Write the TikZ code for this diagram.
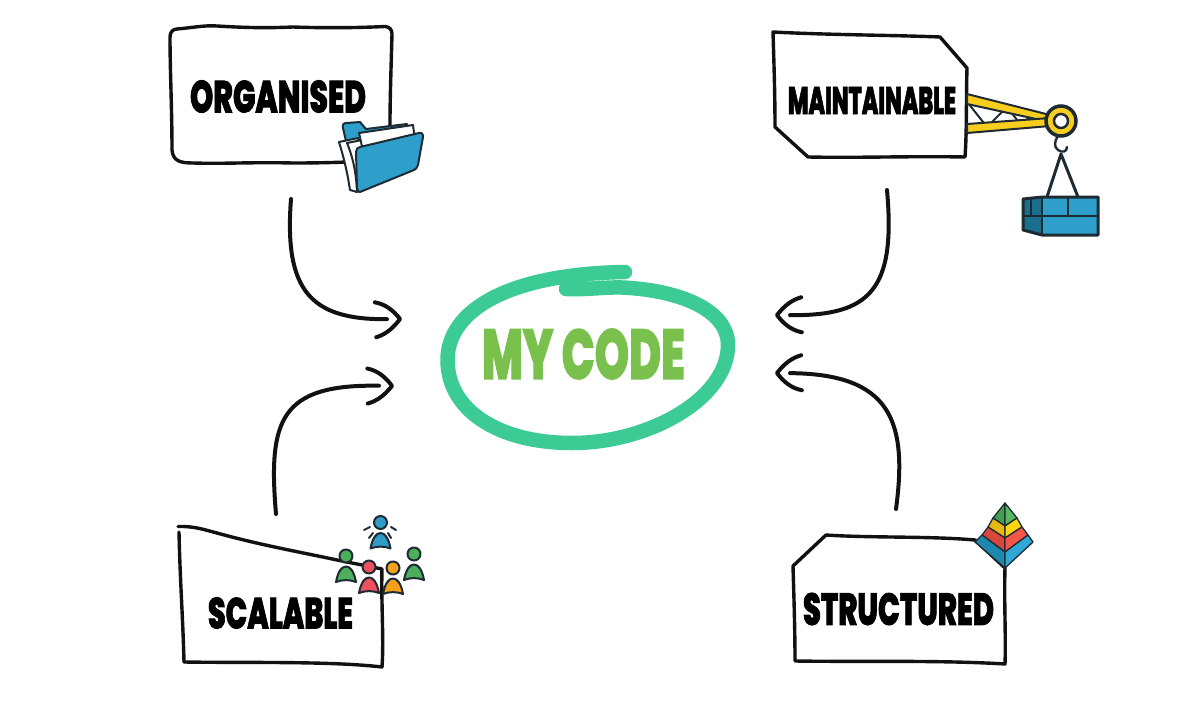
\documentclass[tikz,border=0pt]{standalone}
\usepackage{fontspec}
\usepackage{graphicx}
\usetikzlibrary{arrows.meta,calc}
\newfontfamily\handfont[FakeBold=2.2]{Poppins ExtraBold}
\definecolor{ink}{HTML}{111111}
\definecolor{icon}{HTML}{1E2B33}
\definecolor{ringgreen}{HTML}{3CCB94}
\definecolor{codegreen}{HTML}{79C14C}
\definecolor{bluef}{HTML}{2E9FCB}
\definecolor{bluedark}{HTML}{1A6F8C}
\definecolor{yellowf}{HTML}{F7CE1E}
\definecolor{personblue}{HTML}{2F9CC6}
\definecolor{persongreen}{HTML}{4CAF5B}
\definecolor{personred}{HTML}{EE5060}
\definecolor{personorange}{HTML}{F5A11C}
\definecolor{pyrgreenA}{HTML}{3F9E50}
\definecolor{pyrgreenB}{HTML}{58B860}
\definecolor{pyryellowA}{HTML}{E8B80F}
\definecolor{pyryellowB}{HTML}{FFD410}
\definecolor{pyrredA}{HTML}{D8473E}
\definecolor{pyrredB}{HTML}{F2564B}
\definecolor{pyrblueA}{HTML}{1F88AF}
\definecolor{pyrblueB}{HTML}{2FA8D5}
\newcommand{\handtext}[3]{\resizebox{#1pt}{#2pt}{\handfont #3}}
\newcommand{\personicon}[3]{%
  \draw[iconline,fill=#3] (#1,#2) circle (6.5);
  \draw[iconline,fill=#3] (#1-10,#2+26) .. controls (#1-8,#2+15) and (#1-4,#2+10.5) .. (#1,#2+10.5)
     .. controls (#1+4,#2+10.5) and (#1+8,#2+15) .. (#1+10,#2+26) .. controls (#1+4,#2+23.5) and (#1-4,#2+23.5) .. cycle;
}
\pgfdeclarearrow{
  name=HandBarb,
  setup code={
    \pgfarrowssettipend{2pt}
    \pgfarrowssetlineend{-13pt}
    \pgfarrowssetbackend{-26pt}
    \pgfarrowssetvisualbackend{-13pt}
    \pgfarrowshullpoint{0pt}{0pt}
    \pgfarrowshullpoint{-26pt}{19pt}
    \pgfarrowshullpoint{-26pt}{-19pt}
  },
  drawing code={
    \pgfsetdash{}{0pt}
    \pgfsetroundcap
    \pgfsetroundjoin
    \pgfpathmoveto{\pgfqpoint{-25pt}{17pt}}
    \pgfpathcurveto{\pgfqpoint{-14pt}{15pt}}{\pgfqpoint{-6pt}{8pt}}{\pgfqpoint{0pt}{0pt}}
    \pgfpathcurveto{\pgfqpoint{-7pt}{-9pt}}{\pgfqpoint{-14pt}{-15pt}}{\pgfqpoint{-24pt}{-18pt}}
    \pgfusepathqstroke
  }
}
\tikzset{
  x=1pt,y=-1pt,
  boxline/.style={draw=ink,line width=3.4pt,line join=round,line cap=round},
  iconline/.style={draw=icon,line width=2pt,line join=round,line cap=round},
  thinicon/.style={draw=icon,line width=1.3pt,line join=round},
  flow/.style={draw=ink,line width=4pt,line cap=round,-{HandBarb}},
  word/.style={inner sep=0pt,text=black},
  ringstroke/.style={draw=ringgreen,line width=14.5pt,line cap=round,line join=round},
}
\begin{document}
\begin{tikzpicture}
\useasboundingbox[fill=white] (0,0) rectangle (1192,709);

% boxes
\draw[boxline] (177,29) .. controls (190,28) and (205,25) .. (217,26) .. controls (250,28) and (270,28) .. (293,27)
  .. controls (320,28) and (355,28) .. (385,26.5) .. controls (389,27) and (392,29) .. (392,34)
  .. controls (391,70) and (390,100) .. (390,123) -- (389,160) .. controls (350,162) and (330,163) .. (293,163)
  .. controls (250,162) and (225,164) .. (193,163) .. controls (180,163) and (173,161) .. (172,150)
  .. controls (172,110) and (170,70) .. (170,37) .. controls (170,32) and (173,29) .. (177,29) -- cycle;
\draw[boxline] (773,32) .. controls (830,35) and (890,35) .. (940,37) -- (967,68) .. controls (966,100) and (967,130) .. (965,157)
  .. controls (910,156) and (860,158) .. (808,157) -- (775,127) .. controls (775,95) and (774,65) .. (773,32) -- cycle;
\draw[boxline] (178,526.5) .. controls (195,526) and (205,530) .. (217,533) .. controls (260,545) and (300,552) .. (337,560)
  -- (382,569) .. controls (381,600) and (384,640) .. (382,667) .. controls (330,661) and (250,663) .. (184,662);
\draw[boxline] (179,532) .. controls (180,580) and (183,620) .. (184,662);
\draw[boxline] (793,566) -- (826,535) .. controls (870,538) and (930,536) .. (975,540) -- (1005,568) .. controls (1004,600) and (1006,640) .. (1005,664)
  .. controls (940,660) and (860,662) .. (795,661) .. controls (795,630) and (794,600) .. (793,566) -- cycle;

% labels
\node[word] (organised) at (278,96.5) {\handtext{176}{32}{ORGANISED}};
\node[word] (maintainable) at (872,100.5) {\handtext{168}{27}{MAINTAINABLE}};
\node[word] (scalable) at (280.5,613) {\handtext{145}{31}{SCALABLE}};
\node[word] (structured) at (898.5,609) {\handtext{191}{32}{STRUCTURED}};
\node[word,text=codegreen] (mycode) at (583.5,354) {\handtext{203}{50}{MY CODE}};

% ring
\draw[ringstroke] (566,289) .. controls (590,290) and (610,286) .. (630,288)
  .. controls (685,292) and (728,312) .. (728,345)
  .. controls (728,398) and (650,443) .. (572,443)
  .. controls (498,443) and (447.5,410) .. (447.5,360)
  .. controls (447.5,312) and (505,274) .. (625,272);

% connectors
\coordinate (org-out) at (291,199);
\coordinate (org-in) at (402,319);
\coordinate (main-out) at (887,190);
\coordinate (main-in) at (775,315);
\coordinate (scal-out) at (276,514);
\coordinate (scal-in) at (394,386);
\coordinate (stru-out) at (896,509);
\coordinate (stru-in) at (775,373);
\draw[flow] (org-out) .. controls (284,290) and (310,320) .. (org-in);
\draw[flow] (main-out) .. controls (896,290) and (870,316) .. (main-in);
\draw[flow] (scal-out) .. controls (268,420) and (280,384) .. (scal-in);
\draw[flow] (stru-out) .. controls (908,420) and (890,374) .. (stru-in);

% folder
\draw[iconline,fill=bluef] (343,128) .. controls (342,124) and (344,123) .. (347,123) -- (360,122) -- (366,129) -- (407,124) -- (410,135) -- (360,170) -- (348,150) -- cycle;
\draw[iconline,fill=white] (339,142) -- (358,138) -- (370,185) -- (357,192) -- (350,190) .. controls (347,170) and (343,155) .. (339,142) -- cycle;
\draw[iconline,fill=white] (347,143) -- (362,140) -- (372,185) -- (357,191) .. controls (356,170) and (352,155) .. (347,143) -- cycle;
\draw[iconline,fill=white] (359,133) -- (413,125) -- (415,140) -- (365,160) -- cycle;
\draw[iconline,fill=bluef] (356,152) .. controls (356,149) and (358,147) .. (360,147) -- (419,133) .. controls (422,132) and (423,134) .. (423,137)
  -- (418,165) .. controls (417,168) and (416,169) .. (414,170) -- (360,192) .. controls (358,192) and (358,191) .. (357,188) -- cycle;

% crane
\draw[iconline] (968,103) -- (987,127) -- (1007,107) -- (1021,125) -- (1033,114);
\draw[iconline,fill=yellowf] (967,94) -- (1050,115) -- (1050,122) -- (967,104) -- cycle;
\draw[iconline,fill=yellowf] (967,124) -- (1050,118) -- (1050,126) -- (967,133) -- cycle;
\draw[icon,line width=2.4pt,line cap=round] (1058,136) .. controls (1054,142) and (1054,147) .. (1058,150) .. controls (1062,153) and (1067,152) .. (1067,147);
\draw[icon,line width=3pt,line cap=round,line join=round] (1047,197) -- (1061,154) -- (1078,197);
\draw[draw=icon,line width=3.5pt,fill=yellowf] (1061,121) circle (15);
\draw[draw=icon,line width=2.5pt,fill=white] (1061,121) circle (7);
\fill[bluef] (1023,199) -- (1042,197) -- (1098,197) -- (1098,235) -- (1042,235) -- (1023,230) -- cycle;
\fill[bluedark] (1023,199) -- (1042,197) -- (1042,235) -- (1023,230) -- cycle;
\draw[icon,line width=3pt,line join=round] (1023,199) -- (1042,197) -- (1098,197) -- (1098,235) -- (1042,235) -- (1023,230) -- cycle;
\draw[icon,line width=2.6pt] (1023,216) -- (1098,216) (1042,197) -- (1042,235) (1068,197) -- (1068,216) (1031,199) -- (1031,216);

% people
\draw[iconline] (364,530) -- (370,527) (369,538) -- (373,533) (391,538) -- (388,533) (396,530) -- (391,527);
\personicon{380.5}{522.5}{personblue}
\personicon{346}{556}{persongreen}
\personicon{414}{554}{persongreen}
\personicon{393}{568}{personorange}
\personicon{369}{567}{personred}

% pyramid
\draw[thinicon,fill=pyrgreenA] (1005,503) -- (993,518) -- (1005,526) -- cycle;
\draw[thinicon,fill=pyrgreenB] (1005,503) -- (1017,518) -- (1005,526) -- cycle;
\draw[thinicon,fill=pyryellowA] (993,518) -- (988,527) -- (1005,538) -- (1005,526) -- cycle;
\draw[thinicon,fill=pyryellowB] (1017,518) -- (1022,527) -- (1005,538) -- (1005,526) -- cycle;
\draw[thinicon,fill=pyrredA] (988,527) -- (982,535) -- (1005,552) -- (1005,538) -- cycle;
\draw[thinicon,fill=pyrredB] (1022,527) -- (1028,535) -- (1005,552) -- (1005,538) -- cycle;
\draw[thinicon,fill=pyrblueA] (982,535) -- (975,542) -- (1005,568) -- (1005,552) -- cycle;
\draw[thinicon,fill=pyrblueB] (1028,535) -- (1033,542) -- (1005,568) -- (1005,552) -- cycle;
\end{tikzpicture}
\end{document}
